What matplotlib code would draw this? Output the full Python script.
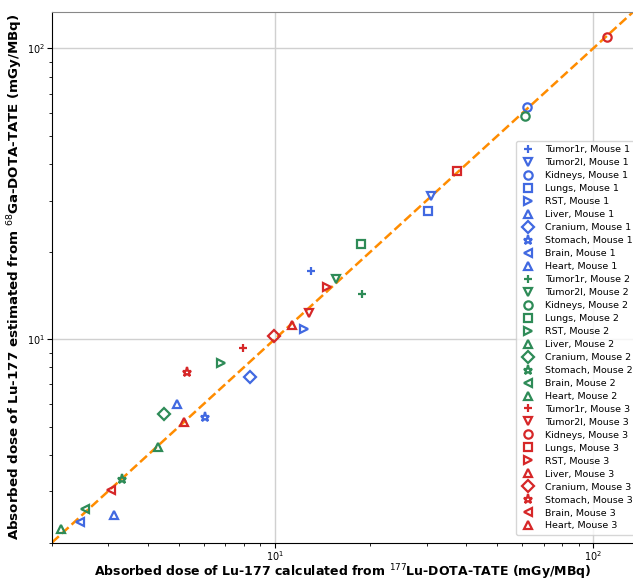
import matplotlib

matplotlib.use("Agg")
import matplotlib.pyplot as plt
import numpy as np

# organes et marqueurs
organs = ["Tumor1r", "Tumor2l", "Kidneys", "Lungs", "RST",
          "Liver", "Cranium", "Stomach", "Brain", "Heart"]
markers = ["+", "v", "o", "s", ">", "^", "D", "*", "<", "^"]
mice = ["Mouse 1", "Mouse 2", "Mouse 3"]
colors = ["royalblue", "seagreen", "tab:red"]

# dose Lu-177 (177Lu-DOTA-TATE), par souris, dans l'ordre des organes
lu_m1 = [12.97, 30.9, 61.8, 30.2, 12.33, 4.92, 8.35, 6.03, 2.44, 3.12]
lu_m2 = [18.76, 15.54, 60.95, 18.62, 6.77, 4.29, 4.51, 3.31, 2.53, 2.14]
lu_m3 = [7.93, 12.79, 110.3, 37.27, 14.57, 11.31, 9.93, 5.29, 3.06, 5.18]

# dose estimée depuis 68Ga-DOTA-TATE
ga_m1 = [17.13, 31.0, 62.7, 27.5, 10.82, 5.98, 7.40, 5.40, 2.35, 2.48]
ga_m2 = [14.28, 16.08, 58.4, 21.2, 8.27, 4.25, 5.52, 3.30, 2.60, 2.22]
ga_m3 = [9.31, 12.28, 109.1, 37.78, 15.09, 11.17, 10.24, 7.70, 3.03, 5.19]

LIMS = [2.0, 134.0]


def main():
    fig = plt.figure(figsize=(6.33, 5.8), dpi=100)
    ax = fig.add_axes([52 / 633, 37.5 / 580, 581.6 / 633, 531 / 580])

    lu_all = [lu_m1, lu_m2, lu_m3]
    ga_all = [ga_m1, ga_m2, ga_m3]
    for m, (lu, ga) in enumerate(zip(lu_all, ga_all)):
        for i, organ in enumerate(organs):
            ax.plot(lu[i], ga[i], linestyle="none", marker=markers[i],
                    markersize=6 if markers[i] != "*" else 6.5,
                    markerfacecolor="none", markeredgecolor=colors[m],
                    markeredgewidth=1.6, label=f"{organ}, {mice[m]}")

    ax.plot(LIMS, LIMS, linestyle="--", color="darkorange", linewidth=1.8,
            zorder=1)

    ax.set_xscale("log"); ax.set_yscale("log")
    ax.set_xlim(LIMS); ax.set_ylim(LIMS)
    ax.grid(True, which="major", color="#d0d0d0", linewidth=1)
    ax.set_axisbelow(True)
    ax.tick_params(labelsize=7, pad=1.5)
    for side in ["top", "right"]:
        ax.spines[side].set_color("#888888")

    ax.set_xlabel(r"Absorbed dose of Lu-177 calculated from $^{177}$Lu-DOTA-TATE (mGy/MBq)",
                  fontsize=9.0, fontweight="bold")
    ax.set_ylabel(r"Absorbed dose of Lu-177 estimated from $^{68}$Ga-DOTA-TATE (mGy/MBq)",
                  fontsize=9.6, fontweight="bold")
    ax.xaxis.set_label_coords(0.5, -0.037)
    ax.yaxis.set_label_coords(-0.046, 0.5)

    ax.legend(loc="upper left", bbox_to_anchor=(511 / 633, 1 - 136 / 580),
              bbox_transform=fig.transFigure, fontsize=6.8, labelspacing=0.42,
              handlelength=1.6, handletextpad=1.0, borderpad=0.5)

    fig.savefig("out.png", dpi=100)
    plt.close(fig)


if __name__ == "__main__":
    main()
